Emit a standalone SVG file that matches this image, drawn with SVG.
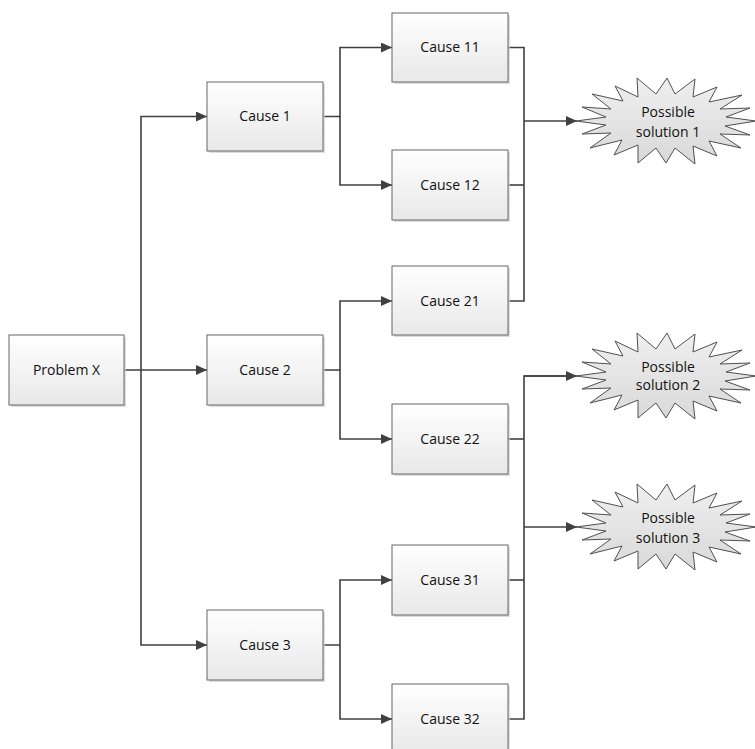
<svg xmlns="http://www.w3.org/2000/svg" xmlns:xlink="http://www.w3.org/1999/xlink" width="755" height="749" viewBox="0 0 755 749">
  <style>
    .box { fill: url(#boxFill); stroke: #666666; stroke-width: 1; }
    .shadow { fill: #cfcfcf; opacity: 0.7; }
    .burst { fill: url(#burstFill); stroke: #505050; stroke-width: 1; stroke-linejoin: miter; }
    .label { font-family: "Open Sans", "Liberation Sans", sans-serif; font-size: 14px; fill: #111111; text-anchor: middle; }
    .wire { fill: none; stroke: #404040; stroke-width: 1.6; }
    .arrow { marker-end: url(#head); }
  </style>
  <defs>
    <linearGradient id="boxFill" x1="0" y1="0" x2="0" y2="1">
      <stop offset="0" stop-color="#ffffff"/>
      <stop offset="1" stop-color="#e8e8e8"/>
    </linearGradient>
    <linearGradient id="burstFill" x1="0" y1="0" x2="0" y2="1">
      <stop offset="0" stop-color="#efefef"/>
      <stop offset="1" stop-color="#d9d9d9"/>
    </linearGradient>
    <marker id="head" markerUnits="userSpaceOnUse" markerWidth="11" markerHeight="10" refX="11" refY="5" orient="auto">
      <path d="M0,0 L11,5 L0,10 Z" fill="#404040"/>
    </marker>
    <!-- explosion outline, centred on 0,0 -->
    <polygon id="burst" class="burst" points="90,0 59,5 84,14 54,13 75,27 43,20 51,35 27,25 29,43 9,27 0,42 -10,27 -28,42 -28,24 -52,34 -44,19 -76,27 -55,12 -84,13 -60,4 -90,0 -60,-4 -84,-14 -55,-12 -74,-27 -43,-20 -51,-35 -28,-24 -29,-43 -10,-27 1,-43 9,-27 29,-42 27,-24 51,-34 43,-19 76,-26 54,-12 84,-13 60,-4"/>
  </defs>

  <!-- connectors -->
  <g id="connectors">
    <path class="wire arrow" d="M124,370 H141 V116.5 H207"/>
    <path class="wire arrow" d="M141,370 H207"/>
    <path class="wire arrow" d="M141,370 V645 H207"/>

    <path class="wire arrow" d="M323,116.5 H340 V47.5 H392"/>
    <path class="wire arrow" d="M340,116.5 V185 H392"/>
    <path class="wire arrow" d="M323,370 H340 V301 H392"/>
    <path class="wire arrow" d="M340,370 V439 H392"/>
    <path class="wire arrow" d="M323,645 H340 V580 H392"/>
    <path class="wire arrow" d="M340,645 V719 H392"/>

    <path class="wire" d="M508,47.5 H524 V301 H508"/>
    <path class="wire" d="M508,185 H524"/>
    <path class="wire arrow" d="M524,121 H577"/>

    <path class="wire" d="M577,376 H524 V719 H508"/>
    <path class="wire" d="M508,439 H524"/>
    <path class="wire" d="M508,580 H524"/>
    <path class="wire arrow" d="M524,376 H577"/>
    <path class="wire arrow" d="M524,527 H577"/>
  </g>

  <g id="problemX">
    <rect class="shadow" x="11" y="337" width="115" height="70"/>
    <rect class="box" x="9" y="335" width="115" height="70"/>
    <text class="label" x="66.5" y="375">Problem X</text>
  </g>

  <g id="cause1">
    <rect class="shadow" x="209" y="84" width="116" height="69"/>
    <rect class="box" x="207" y="82" width="116" height="69"/>
    <text class="label" x="265" y="121">Cause 1</text>
  </g>
  <g id="cause2">
    <rect class="shadow" x="209" y="337" width="116" height="70"/>
    <rect class="box" x="207" y="335" width="116" height="70"/>
    <text class="label" x="265" y="375">Cause 2</text>
  </g>
  <g id="cause3">
    <rect class="shadow" x="209" y="612" width="116" height="70"/>
    <rect class="box" x="207" y="610" width="116" height="70"/>
    <text class="label" x="265" y="650">Cause 3</text>
  </g>

  <g id="cause11">
    <rect class="shadow" x="394" y="15" width="116" height="69"/>
    <rect class="box" x="392" y="13" width="116" height="69"/>
    <text class="label" x="450" y="52">Cause 11</text>
  </g>
  <g id="cause12">
    <rect class="shadow" x="394" y="152" width="116" height="70"/>
    <rect class="box" x="392" y="150" width="116" height="70"/>
    <text class="label" x="450" y="190">Cause 12</text>
  </g>
  <g id="cause21">
    <rect class="shadow" x="394" y="268" width="116" height="69"/>
    <rect class="box" x="392" y="266" width="116" height="69"/>
    <text class="label" x="450" y="306">Cause 21</text>
  </g>
  <g id="cause22">
    <rect class="shadow" x="394" y="406" width="116" height="70"/>
    <rect class="box" x="392" y="404" width="116" height="70"/>
    <text class="label" x="450" y="444">Cause 22</text>
  </g>
  <g id="cause31">
    <rect class="shadow" x="394" y="547" width="116" height="70"/>
    <rect class="box" x="392" y="545" width="116" height="70"/>
    <text class="label" x="450" y="585">Cause 31</text>
  </g>
  <g id="cause32">
    <rect class="shadow" x="394" y="686" width="116" height="70"/>
    <rect class="box" x="392" y="684" width="116" height="70"/>
    <text class="label" x="450" y="724">Cause 32</text>
  </g>

  <g id="solution1" transform="translate(666,121)">
    <use xlink:href="#burst"/>
    <text class="label" x="2" y="-4">Possible</text>
    <text class="label" x="2" y="16">solution 1</text>
  </g>
  <g id="solution2" transform="translate(666,376)">
    <use xlink:href="#burst"/>
    <text class="label" x="2" y="-4">Possible</text>
    <text class="label" x="2" y="14">solution 2</text>
  </g>
  <g id="solution3" transform="translate(666,527)">
    <use xlink:href="#burst"/>
    <text class="label" x="2" y="-4">Possible</text>
    <text class="label" x="2" y="16">solution 3</text>
  </g>
</svg>
